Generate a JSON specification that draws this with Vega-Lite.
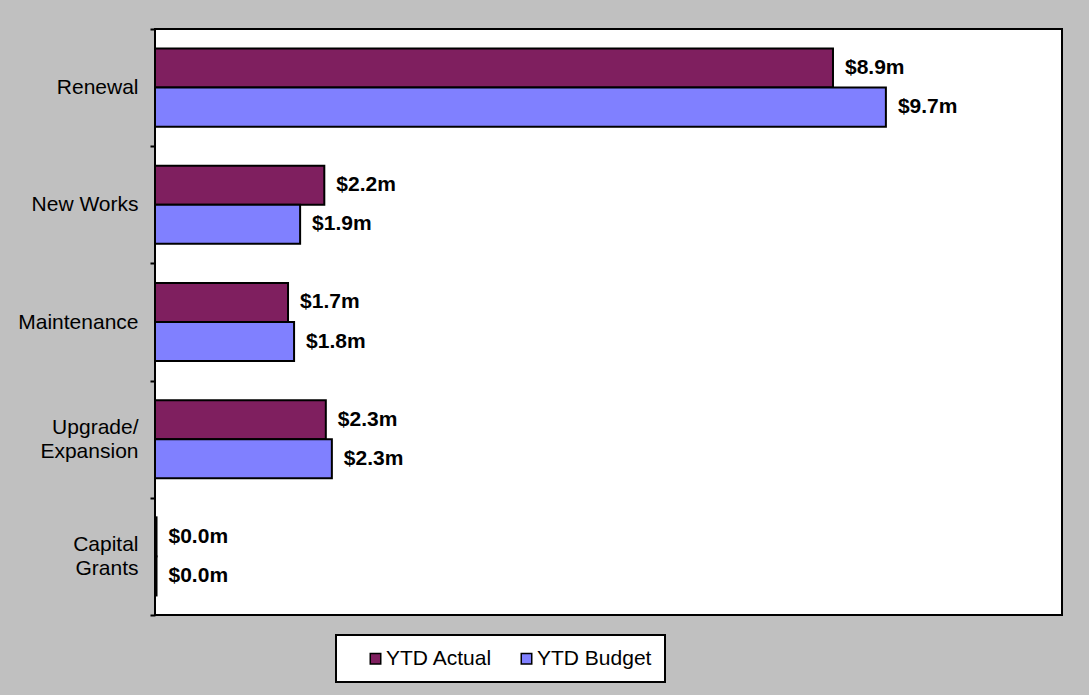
{
  "$schema": "https://vega.github.io/schema/vega-lite/v6.json",
  "autosize": {"type": "none"},
  "width": 907,
  "height": 586,
  "padding": {"left": 155, "top": 29, "right": 27, "bottom": 80},
  "background": "#C0C0C0",
  "config": {
    "view": {"stroke": "#000000", "strokeWidth": 2, "fill": "#FFFFFF"},
    "font": "Liberation Sans",
    "legend": {"strokeWidth": 2}
  },
  "data": {
    "values": [
      {"category": "Renewal", "series": "YTD Actual", "value": 8.97, "label": "$8.9m"},
      {"category": "Renewal", "series": "YTD Budget", "value": 9.67, "label": "$9.7m"},
      {"category": "New Works", "series": "YTD Actual", "value": 2.24, "label": "$2.2m"},
      {"category": "New Works", "series": "YTD Budget", "value": 1.92, "label": "$1.9m"},
      {"category": "Maintenance", "series": "YTD Actual", "value": 1.76, "label": "$1.7m"},
      {"category": "Maintenance", "series": "YTD Budget", "value": 1.84, "label": "$1.8m"},
      {"category": "Upgrade/ Expansion", "series": "YTD Actual", "value": 2.26, "label": "$2.3m"},
      {"category": "Upgrade/ Expansion", "series": "YTD Budget", "value": 2.34, "label": "$2.3m"},
      {"category": "Capital Grants", "series": "YTD Actual", "value": 0.02, "label": "$0.0m"},
      {"category": "Capital Grants", "series": "YTD Budget", "value": 0.02, "label": "$0.0m"}
    ]
  },
  "encoding": {
    "y": {
      "field": "category",
      "type": "nominal",
      "sort": null,
      "scale": {"paddingInner": 0, "paddingOuter": 0},
      "axis": {
        "title": null,
        "domain": false,
        "ticks": true,
        "tickBand": "extent",
        "tickSize": 5,
        "tickWidth": 2,
        "tickColor": "#000000",
        "labelFont": "Liberation Sans",
        "labelFontSize": 21,
        "labelColor": "#000000",
        "labelPadding": 12,
        "labelLineHeight": 24,
        "labelLimit": 200,
        "labelOffset": {
          "condition": {"test": "datum.label == 'Upgrade/ Expansion' || datum.label == 'Capital Grants'", "value": -12},
          "value": 0
        },
        "labelExpr": "datum.label == 'Upgrade/ Expansion' ? ['Upgrade/', 'Expansion'] : datum.label == 'Capital Grants' ? ['Capital', 'Grants'] : datum.label == 'Renewal' ? 'Renewal\u00a0' : datum.label"
      }
    },
    "yOffset": {
      "field": "series",
      "type": "nominal",
      "sort": ["YTD Actual", "YTD Budget"],
      "scale": {"paddingInner": 0, "paddingOuter": 0.5}
    },
    "x": {
      "field": "value",
      "type": "quantitative",
      "scale": {"domain": [0, 12], "nice": false, "zero": true},
      "axis": null
    }
  },
  "layer": [
    {
      "mark": {"type": "bar", "stroke": "#000000", "strokeWidth": 2},
      "encoding": {
        "color": {
          "field": "series",
          "type": "nominal",
          "scale": {"domain": ["YTD Actual", "YTD Budget"], "range": ["#7F1F5F", "#8080FF"]},
          "legend": {
            "title": null,
            "orient": "none",
            "direction": "horizontal",
            "legendX": 181,
            "legendY": 606,
            "padding": 13,
            "fillColor": "#FFFFFF",
            "strokeColor": "#000000",
            "symbolType": "square",
            "symbolSize": 110,
            "symbolStrokeColor": "#000000",
            "symbolStrokeWidth": 1.5,
            "symbolOffset": 16,
            "labelFont": "Liberation Sans",
            "labelFontSize": 21,
            "labelColor": "#000000",
            "labelOffset": 0,
            "columnPadding": 7,
            "labelLimit": 200
          }
        }
      }
    },
    {
      "mark": {
        "type": "text",
        "align": "left",
        "baseline": "middle",
        "dx": 12,
        "font": "Liberation Sans",
        "fontSize": 21,
        "fontWeight": "bold",
        "color": "#000000"
      },
      "encoding": {
        "text": {"field": "label", "type": "nominal"}
      }
    }
  ]
}
